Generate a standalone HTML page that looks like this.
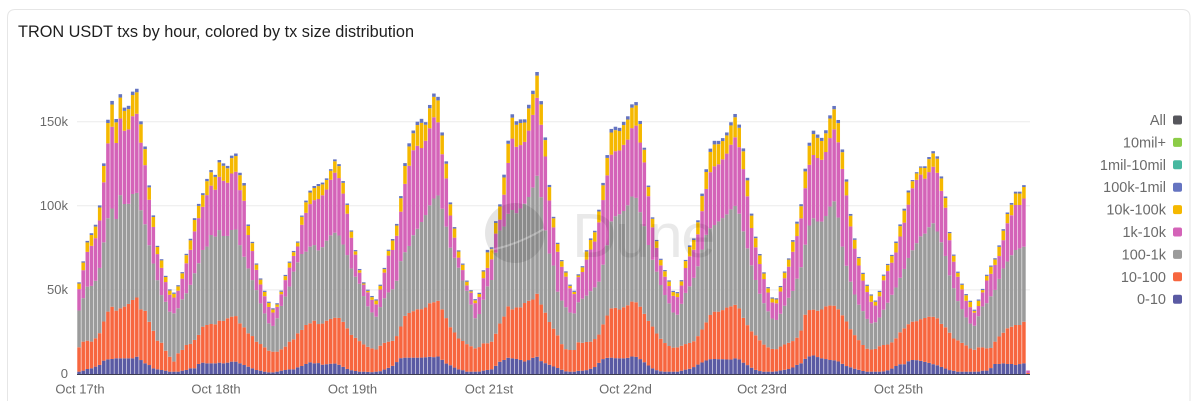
<!DOCTYPE html>
<html><head><meta charset="utf-8"><style>
html,body{margin:0;padding:0;background:#fff;}
body{width:1200px;height:401px;overflow:hidden;}
svg{display:block;}
text{font-family:"Liberation Sans",sans-serif;}
</style></head><body>
<svg id="c" xmlns="http://www.w3.org/2000/svg" width="1200" height="401" viewBox="0 0 1200 401">
<rect x="0" y="0" width="1200" height="401" fill="#fff"/>
<path d="M7.5 401 V17.5 Q7.5 9.5 15.5 9.5 H1182 Q1190 9.5 1190 17.5 V401" fill="none" stroke="#e6e6e6" stroke-width="1"/>
<text x="18" y="37" font-size="16.3" fill="#1f1f1f">TRON USDT txs by hour, colored by tx size distribution</text>
<g stroke="#ececec" stroke-width="1">
<line x1="77" y1="121.7" x2="1030" y2="121.7"/>
<line x1="77" y1="205.8" x2="1030" y2="205.8"/>
<line x1="77" y1="289.9" x2="1030" y2="289.9"/>
</g>
<g font-size="13" fill="#6a6a6a" text-anchor="end">
<text x="68" y="126">150k</text>
<text x="68" y="210">100k</text>
<text x="68" y="294">50k</text>
<text x="68" y="378">0</text>
</g>
<g font-size="13" fill="#6a6a6a" text-anchor="middle">
<text x="80" y="393.5">Oct 17th</text>
<text x="216" y="393.5">Oct 18th</text>
<text x="352.5" y="393.5">Oct 19th</text>
<text x="489" y="393.5">Oct 21st</text>
<text x="625.5" y="393.5">Oct 22nd</text>
<text x="762" y="393.5">Oct 23rd</text>
<text x="898.5" y="393.5">Oct 25th</text>
</g>
<g id="bars"></g>
<line x1="77" y1="374.5" x2="1030" y2="374.5" stroke="#3e3e50" stroke-width="1"/>
<g>
<circle cx="515" cy="233" r="30" fill="rgba(0,0,0,0.10)"/>
<path d="M489 250 Q515 246 544 229" stroke="rgba(255,255,255,0.3)" stroke-width="2" fill="none"/>
<text x="572" y="257" font-size="62" letter-spacing="-1.5" fill="rgba(0,0,0,0.085)">Dune</text>
</g>
<g font-size="14.5" fill="#6b6b6b" text-anchor="end">
<text x="1166" y="125">All</text>
<text x="1166" y="147.4">10mil+</text>
<text x="1166" y="169.8">1mil-10mil</text>
<text x="1166" y="192.2">100k-1mil</text>
<text x="1166" y="214.6">10k-100k</text>
<text x="1166" y="237">1k-10k</text>
<text x="1166" y="259.4">100-1k</text>
<text x="1166" y="281.8">10-100</text>
<text x="1166" y="304.2">0-10</text>
</g>
<g>
<rect x="1173" y="115.5" width="9" height="9" rx="2" fill="#56565c"/>
<rect x="1173" y="137.9" width="9" height="9" rx="2" fill="#8ccc47"/>
<rect x="1173" y="160.3" width="9" height="9" rx="2" fill="#47b8a0"/>
<rect x="1173" y="182.7" width="9" height="9" rx="2" fill="#6574c1"/>
<rect x="1173" y="205.1" width="9" height="9" rx="2" fill="#f5b800"/>
<rect x="1173" y="227.5" width="9" height="9" rx="2" fill="#d463b8"/>
<rect x="1173" y="249.9" width="9" height="9" rx="2" fill="#9b9b9b"/>
<rect x="1173" y="272.3" width="9" height="9" rx="2" fill="#f7663f"/>
<rect x="1173" y="294.7" width="9" height="9" rx="2" fill="#5a5aa3"/>
</g>
</svg>
<script>
(function(){
var Z=[
{ox:75,x0:12,st:12.38,
b6:[668,605,543,520,495,438,312,180,122,178,102,143,138,95,85,183,258,375,465,557,597,647,688,698,676,637,582,537,475,432,400,357,330,345,300,310,318,287,280,338,368,493,545,610,655,692,725,745,730,692,645,605,573,545,467,422,392,378,372],
b3:[752,715,680,678,663,625,548,475,445,478,405,432,432,402,398,450,492,555,610,660,705,725,755,760,745,718,700,675,640,610,570,560,525,530,510,528,528,510,508,555,590,625,660,690,730,760,790,798,775,738,710,680,635,607,582,575,560,555],
b2:[862,845,842,845,835,820,785,755,740,752,745,740,732,720,712,748,752,785,812,842,848,872,890,905,880,870,855,852,840,825,800,795,792,793,782,783,775,770,768,790,802,820,828,845,852,862,872,875,875,868,860,845,838,820,810,795,790,782],
b1:[935,932,927,925,920,915,902,898,897,895,895,895,895,895,890,900,910,915,925,928,930,932,935,935,935,932,930,925,925,912,908,910,910,910,908,910,908,905,905,910,915,920,925,930,932,935,937,937,935,932,930,928,928,922,918,912,907,910],
b4:null},
{ox:315,xs:[5,17,30,42,55,67,80,92,105,117,130,142,155,167,180,192,205,217,230,242,255,267,280,292,305,317,330,342,355,367,380,392,405,417,430,442,455,467,480,492,505,517,530,542,555,567,580,592,605,617,630,642,655,667,680,692,705,717,730],
b6:[378,372,362,345,302,292,345,395,492,548,612,658,685,698,730,688,640,578,545,512,432,325,258,218,188,172,195,142,102,92,208,285,420,492,568,605,660,688,718,703,632,570,562,485,432,345,238,162,185,178,178,132,88,32,135,242,395,480,565],
b4:[422,410,400,372,340,335,385,428,518,562,625,665,692,708,745,702,655,590,578,545,475,385,328,275,255,268,248,212,172,170,275,338,460,525,590,625,675,695,730,715,655,625,598,522,478,405,305,235,262,255,245,210,160,110,205,298,440,510,590],
b3:[572,570,550,530,520,515,545,568,615,645,660,695,735,748,778,750,720,700,690,680,610,580,565,530,510,490,470,440,418,400,440,490,560,590,620,658,690,730,775,765,720,680,660,580,510,500,460,450,460,445,430,410,380,345,420,520,590,620,700],
b2:[790,795,785,778,775,770,780,795,822,830,840,850,860,862,872,860,850,845,845,835,808,770,760,755,748,748,745,730,728,718,745,770,800,815,835,842,852,858,865,862,850,850,845,822,790,770,738,748,742,742,728,722,718,700,738,760,790,808,830],
b1:[905,915,913,912,910,912,918,925,930,932,935,935,935,937,935,935,930,925,920,910,895,893,893,893,893,893,892,890,892,888,898,910,915,922,928,930,935,935,935,935,932,930,928,918,905,900,893,895,897,900,905,900,893,890,905,910,915,920,925]},
{ox:555,xs:[0,10,22,35,47,60,72,85,97,110,122,135,147,160,172,185,197,210,222,235,247,260,272,285,297,310,322,335,347,360,372,385,397,410,422,435,447,460,472,485,497,510,522,535,547,560,572,585,597,610,622,635,647,660,672,685,697,710,722,735],
b6:[480,568,605,640,680,695,632,615,560,528,508,430,350,262,188,205,203,178,165,118,130,210,290,425,498,565,615,640,675,705,690,638,570,545,527,440,365,292,240,245,240,228,205,165,158,240,300,428,510,560,618,668,705,725,695,645,612,560,500,465],
b4:[515,590,625,655,690,705,640,635,590,562,540,470,405,325,270,275,270,248,235,190,200,272,325,455,528,585,635,660,690,720,705,655,600,580,560,490,420,355,318,320,305,290,270,235,228,305,358,480,540,595,640,685,720,740,710,665,632,595,540,500],
b3:[675,700,725,745,760,760,720,715,705,690,680,660,600,540,465,470,460,450,430,400,420,475,510,580,610,650,690,715,740,770,760,710,690,670,640,600,540,510,500,490,478,470,455,440,435,495,540,600,640,690,720,745,770,785,770,745,720,700,660,640],
b2:[810,835,855,870,870,870,842,850,845,845,835,820,785,760,740,745,750,738,735,720,730,745,770,790,805,830,840,855,860,865,860,855,850,848,840,818,800,775,755,755,755,745,740,738,730,765,785,810,820,835,850,860,865,870,862,855,850,845,835,830],
b1:[920,925,930,935,935,935,932,932,930,925,920,905,895,893,893,895,895,895,893,888,892,900,910,920,928,932,935,935,935,935,935,930,928,925,918,910,905,898,897,897,898,897,900,897,893,905,912,920,928,932,935,935,935,935,932,930,928,925,918,915]},
{ox:795,xs:[0,12,25,37,50,62,75,87,100,112,125,137,150,162,175,187,200,212,225,237,250,262,275,287,300,312,325,337,350,362,375,387,400,412,425,437,450,462,475,487,500,512,525,537,550,562,575,587,600,612,625,637,650,662,675,687],
b6:[505,462,368,280,212,212,238,228,188,135,142,238,315,430,515,572,625,665,692,728,708,655,618,595,558,505,460,400,365,342,318,325,295,272,280,340,395,505,578,630,668,700,720,752,720,690,645,618,595,558,507,458,428,395,395,375],
b4:[540,510,425,340,285,285,305,292,255,205,212,300,368,470,548,598,650,685,718,742,725,670,640,615,590,540,500,448,390,365,340,360,340,318,330,385,430,530,600,645,685,720,740,760,740,700,662,643,615,590,540,490,465,435,435,415],
b3:[680,650,585,520,470,480,490,478,455,418,432,535,598,650,690,728,745,770,790,790,780,755,735,710,690,660,635,600,575,555,530,525,505,485,510,540,580,640,680,720,745,770,790,800,770,740,730,710,690,658,625,605,585,570,565,560],
b2:[840,830,775,752,748,750,755,740,738,735,740,760,775,800,820,835,850,865,868,870,860,855,855,850,840,820,808,795,785,785,778,775,770,770,772,790,800,815,835,840,848,855,865,870,862,862,865,865,845,830,818,805,800,795,795,785],
b1:[918,910,900,893,885,888,895,895,900,900,902,908,917,920,925,928,932,935,935,935,935,935,932,928,920,912,915,905,900,900,902,905,908,912,915,920,925,930,932,935,935,935,935,935,935,932,932,925,912,912,910,912,912,915,912,910]}
];
function pts(key){
  var p=[];
  for(var zi=0;zi<Z.length;zi++){var z=Z[zi];var a=z[key];if(!a)continue;
    for(var k=0;k<a.length;k++){var X=z.xs?z.xs[k]:z.x0+z.st*k;p.push([z.ox+X/3,60+a[k]/3]);}}
  p.sort(function(a,b){return a[0]-b[0];});
  return p;
}
function interp(p,x){
  if(x<=p[0][0])return p[0][1];
  for(var k=1;k<p.length;k++){
    if(x<=p[k][0]){var a=p[k-1],b=p[k];var d=b[0]-a[0];var t=d?(x-a[0])/d:0;return a[1]+t*(b[1]-a[1]);}
  }
  return p[p.length-1][1];
}
var P6=pts('b6'),P4=pts('b4'),P3=pts('b3'),P2=pts('b2'),P1=pts('b1');
var W=4.126,X0=77,BASE=374,BW=3.56;
var cols=['#5a5aa3','#f7663f','#9b9b9b','#d463b8','#f5b800','#6574c1'];
var g=document.getElementById('bars');
var html='';
for(var i=0;i<230;i++){
  var cx=X0+(i+0.5)*W;
  var b6=interp(P6,cx),b3=interp(P3,cx),b2=interp(P2,cx),b1=interp(P1,cx);
  var b4;
  if(cx<317){b4=b6+0.24*(b3-b6);} else {b4=interp(P4,cx);}
  b1=Math.min(b1,BASE-0.8);
  b2=Math.min(b2,b1-0.5);
  b3=Math.min(b3,b2-0.5);
  b4=Math.min(b4,b3-0.5);
  b6=Math.min(b6,b4-1.8);
  var cap=Math.max(1.2,Math.min(4,0.14*(b4-b6)));
  var b5=b6+cap;
  var tops=[b1,b2,b3,b4,b5,b6];
  var bottoms=[BASE,b1,b2,b3,b4,b5];
  var x=(X0+i*W+0.28).toFixed(2);
  for(var L=0;L<6;L++){
    var h=bottoms[L]-tops[L];
    if(h<=0)continue;
    html+='<rect x="'+x+'" y="'+tops[L].toFixed(2)+'" width="'+BW+'" height="'+h.toFixed(2)+'" fill="'+cols[L]+'"/>';
  }
}
var xl=(X0+230*W+0.28).toFixed(2);
html+='<rect x="'+xl+'" y="370.5" width="'+BW+'" height="2.5" fill="#d463b8"/>';
html+='<rect x="'+xl+'" y="373" width="'+BW+'" height="1" fill="#f7663f"/>';
g.innerHTML=html;
})();
</script>
</body></html>
